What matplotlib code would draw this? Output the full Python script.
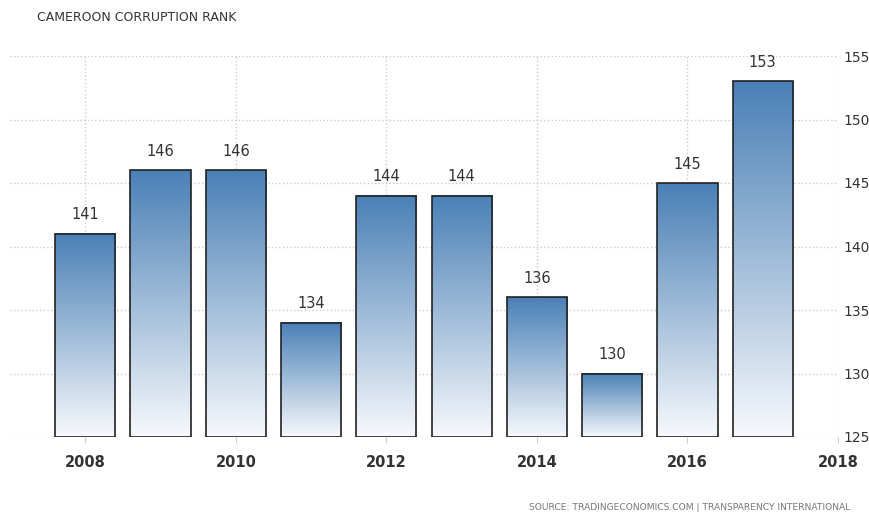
import numpy as np
import matplotlib
matplotlib.use('Agg')
import matplotlib.pyplot as plt
from matplotlib.colors import LinearSegmentedColormap

plt.rcParams['font.family'] = ['DejaVu Sans']

# 数据
years = [2008, 2009, 2010, 2011, 2012, 2013, 2014, 2015, 2016, 2017]
ranks = [141, 146, 146, 134, 144, 144, 136, 130, 145, 153]
xticks = [2008, 2010, 2012, 2014, 2016, 2018]
yticks = [125, 130, 135, 140, 145, 150, 155]

fig = plt.figure(figsize=(8.69, 5.16), dpi=100)
ax = fig.add_axes([10 / 869, 1 - 437 / 516, 828 / 869, 381 / 516])

ymin, ymax = 125, 155
width = 0.8
cmap = LinearSegmentedColormap.from_list('tegrad', ['#f7f9fc', '#4a80b6'])
grad = np.linspace(0, 1, 256).reshape(-1, 1)

for x, v in zip(years, ranks):
    ax.imshow(grad, cmap=cmap, aspect='auto', origin='lower',
              extent=[x - width / 2, x + width / 2, ymin, v], zorder=2)
    ax.bar(x, v - ymin, bottom=ymin, width=width, facecolor='none',
           edgecolor='#222222', linewidth=1.2, zorder=3)
    ax.text(x, v + 0.9, str(v), ha='center', va='bottom', fontsize=10.5,
            color='#333333', zorder=4)

ax.set_xlim(2007, 2018)
ax.set_ylim(ymin, ymax)
ax.set_xticks(xticks)
ax.set_yticks(yticks)
ax.yaxis.tick_right()
ax.tick_params(axis='x', length=4, color='#cccccc', labelsize=10.5,
               labelcolor='#333333', pad=9)
ax.tick_params(axis='y', length=0, labelsize=10, labelcolor='#333333', pad=4)
for lab in ax.get_xticklabels():
    lab.set_fontweight('bold')
ax.grid(True, color='#cccccc', linestyle=':', linewidth=1, zorder=0)
ax.set_axisbelow(True)
for s in ax.spines.values():
    s.set_visible(False)

fig.text(37 / 869, 1 - 17 / 516, 'CAMEROON CORRUPTION RANK', fontsize=9,
         color='#333333', ha='left', va='center')
fig.text(850 / 869, 1 - 508 / 516,
         'SOURCE: TRADINGECONOMICS.COM | TRANSPARENCY INTERNATIONAL',
         fontsize=6.6, color='#777777', ha='right', va='center')

fig.savefig('out.png', dpi=100)
